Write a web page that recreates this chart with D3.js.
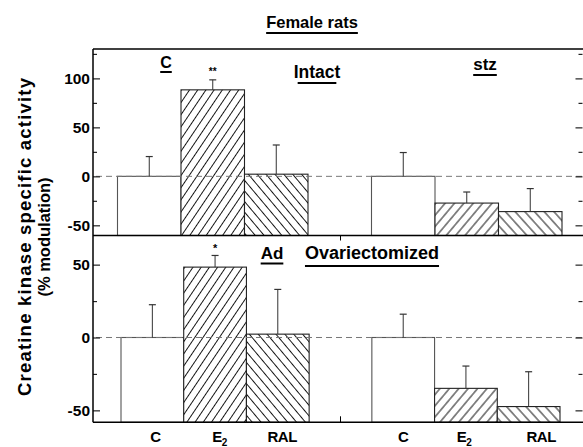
<!DOCTYPE html>
<html><head><meta charset="utf-8">
<script src="https://cdn.jsdelivr.net/npm/d3@7"></script>
<style>
html,body{margin:0;padding:0;background:#fff;}
svg{display:block;}
text{font-family:"Liberation Sans",Arial,Helvetica,sans-serif;font-weight:bold;fill:#000;}
</style></head>
<body><svg id="chart" width="583" height="447"></svg>
<script>
// ---- data ----
const categories = ["C", "E2", "RAL", "C", "E2", "RAL"];
const slots = [0, 1, 2, 4, 5, 6];          // bar slot index (slot 3 is the gap)
const groupOf = [0, 0, 0, 1, 1, 1];
const intactValues = [0, 88.3, 2.2, 0, -27.3, -36];
const intactErrors = [20.2, 10.2, 29.8, 24.3, 11.3, 23.5];
const ovxValues = [0, 48.3, 2.3, 0, -34.9, -47.4];
const ovxErrors = [22.5, 8, 30.7, 16, 15.3, 23.9];
const topMajorTicks = [100, 50, 0, -50];
const topMinorTicks = [125, 75, 25, -25];
const botMajorTicks = [50, 0, -50];
const botMinorTicks = [25, -25];
const catLabelPos = [0.55, 1.57, 2.57, 4.5, 5.47, 6.7];

const svg = d3.select("#chart");
const L = 93, R = 583, T = 49, MID = 235.5, B = 422.3;

const yTop = d3.scaleLinear().domain([-60.4, 130]).range([MID, T]);
const yBot = d3.scaleLinear().domain([-58.2, 70]).range([B, MID]);
const xTop = d3.scaleLinear().domain([0, 7]).range([117.5, 562]);
const xBot = d3.scaleLinear().domain([0, 7]).range([121, 560]);

// patterns
const defs = svg.append("defs");
function hatch(id, spacing, angle) {
  const p = defs.append("pattern").attr("id", id).attr("patternUnits", "userSpaceOnUse")
    .attr("width", spacing).attr("height", spacing)
    .attr("patternTransform", `rotate(${angle})`);
  p.append("rect").attr("width", spacing).attr("height", spacing).attr("fill", "#fff");
  p.append("line").attr("x1", spacing / 2).attr("x2", spacing / 2).attr("y1", -1).attr("y2", spacing + 1)
    .attr("stroke", "#000").attr("stroke-width", 0.9);
}
hatch("fwd0", 6.8, 34);
hatch("back0", 6.8, -40);
hatch("fwd1", 7.2, 40);
hatch("back1", 7.2, -42);
function fillFor(i) {
  const c = categories[i];
  if (c === "C") return "#fff";
  return `url(#${c === "E2" ? "fwd" : "back"}${groupOf[i]})`;
}

function panel(values, errors, x, y, majors, minors) {
  const bw = x(1) - x(0);
  const g = svg.append("g");
  // bars
  g.selectAll("rect.bar").data(values).join("rect")
    .attr("x", (d, i) => x(slots[i]))
    .attr("width", bw)
    .attr("y", d => y(d))
    .attr("height", d => y.range()[0] - y(d))
    .attr("fill", (d, i) => fillFor(i))
    .attr("stroke", (d, i) => categories[i] === "C" ? "#555" : "#222")
    .attr("stroke-width", 1.1);
  // zero dashed line
  g.append("line").attr("x1", L + 3).attr("x2", R).attr("y1", y(0)).attr("y2", y(0))
    .attr("stroke", "#777").attr("stroke-width", 1).attr("stroke-dasharray", "6,4");
  // error bars
  values.forEach((v, i) => {
    const cx = x(slots[i]) + bw / 2;
    g.append("line").attr("x1", cx).attr("x2", cx).attr("y1", y(v)).attr("y2", y(v + errors[i]))
      .attr("stroke", "#333").attr("stroke-width", 1);
    g.append("line").attr("x1", cx - 3.5).attr("x2", cx + 3.5).attr("y1", y(v + errors[i])).attr("y2", y(v + errors[i]))
      .attr("stroke", "#333").attr("stroke-width", 1.2);
  });
  // axes ticks left/right
  const axL = d3.axisRight(y).tickValues(majors).tickSize(7).tickFormat("");
  const axLm = d3.axisRight(y).tickValues(minors).tickSize(4).tickFormat("");
  const axR = d3.axisLeft(y).tickValues(majors).tickSize(7).tickFormat("");
  const axRm = d3.axisLeft(y).tickValues(minors).tickSize(4).tickFormat("");
  [[axL, L], [axLm, L], [axR, R - 0.5], [axRm, R - 0.5]].forEach(([ax, xx]) => {
    const a = g.append("g").attr("transform", `translate(${xx},0)`).call(ax);
    a.select(".domain").remove();
    a.selectAll("line").attr("stroke", "#222").attr("stroke-width", 1.2);
  });
  // tick labels
  g.selectAll("text.tl").data(majors).join("text")
    .attr("x", L - 3).attr("y", d => y(d)).attr("dy", "0.36em")
    .attr("text-anchor", "end").attr("font-size", 15.5).text(d => d);
}

panel(intactValues, intactErrors, xTop, yTop, topMajorTicks, topMinorTicks);
panel(ovxValues, ovxErrors, xBot, yBot, botMajorTicks, botMinorTicks);

// frame
const frame = svg.append("g").attr("stroke", "#000").attr("stroke-width", 1.5);
frame.append("line").attr("x1", L).attr("x2", L).attr("y1", T).attr("y2", B);
frame.append("line").attr("x1", L).attr("x2", R).attr("y1", T).attr("y2", T);
frame.append("line").attr("x1", L).attr("x2", R).attr("y1", MID).attr("y2", MID);
frame.append("line").attr("x1", L).attr("x2", R).attr("y1", B).attr("y2", B);
// middle ticks
const midX = xBot(3.5);
frame.append("line").attr("x1", midX).attr("x2", midX).attr("y1", B).attr("y2", B - 6).attr("stroke-width", 1);
frame.append("line").attr("x1", midX).attr("x2", midX).attr("y1", MID).attr("y2", MID + 5).attr("stroke-width", 1);

// category labels
categories.forEach((c, i) => {
  const t = svg.append("text").attr("x", xBot(catLabelPos[i])).attr("y", 442)
    .attr("text-anchor", "middle").attr("font-size", 15).attr("letter-spacing", "-0.5");
  if (c === "E2") {
    t.append("tspan").text("E");
    t.append("tspan").attr("font-size", 10).attr("dy", 4).text("2");
  } else t.text(c);
});

// underlined labels
function ulabel(txt, x, y, size, ulY, shrink) {
  const t = svg.append("text").attr("x", x).attr("y", y).attr("text-anchor", "middle")
    .attr("font-size", size).text(txt);
  const w = t.node().getComputedTextLength();
  const s = shrink || 0;
  svg.append("line").attr("x1", x - w / 2 + s).attr("x2", x + w / 2 - s)
    .attr("y1", ulY).attr("y2", ulY).attr("stroke", "#000").attr("stroke-width", 2);
}
ulabel("Female rats", 312, 28, 16.5, 33);
ulabel("C", 166, 68, 16, 72);
ulabel("Intact", 317, 78, 17.5, 83, 4);
ulabel("stz", 485, 70, 17, 75);
ulabel("Ad", 272, 259, 17, 263.5);
ulabel("Ovariectomized", 372, 259, 18, 266);

// significance marks
svg.append("text").attr("x", xTop(1.5)).attr("y", yTop(intactValues[1] + intactErrors[1]) - 5)
  .attr("text-anchor", "middle").attr("font-size", 10).text("**");
svg.append("text").attr("x", xBot(1.5)).attr("y", yBot(ovxValues[1] + ovxErrors[1]) - 3)
  .attr("text-anchor", "middle").attr("font-size", 11).text("*");

// y-axis title
const yt = svg.append("g").attr("transform", "translate(25,237) rotate(-90)");
yt.append("text").attr("text-anchor", "middle").attr("y", 6).attr("font-size", 18.5)
  .attr("textLength", 318).attr("lengthAdjust", "spacing")
  .text("Creatine kinase specific activity");
yt.append("text").attr("text-anchor", "middle").attr("y", 24.5).attr("font-size", 16.5)
  .text("(% modulation)");
</script></body></html>
